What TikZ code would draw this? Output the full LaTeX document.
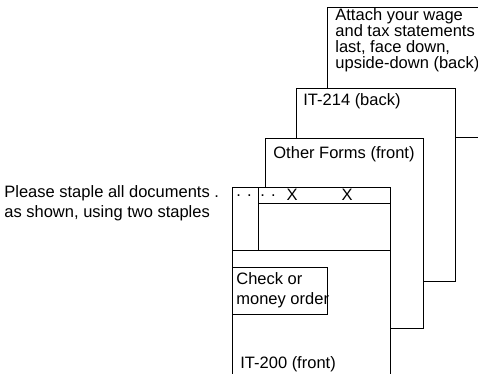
\documentclass[tikz,border=0pt]{standalone}
\usepackage{fontspec}
\setmainfont{Liberation Sans}
\usepackage{tikz}
\usetikzlibrary{positioning}

\begin{document}
\begin{tikzpicture}[x=1pt, y=-1pt, line width=0.8pt,
    sheet/.style={draw, fill=white, inner sep=0pt, outer sep=0pt, anchor=north west},
    words/.style={inner sep=0pt, anchor=north west, align=left, font=\fontsize{16.5}{16}\selectfont},
    wide/.style={words, font=\fontsize{16.5}{20}\selectfont},
    staplemark/.style={inner sep=0pt, font=\fontsize{16.5}{16}\selectfont}]
       \useasboundingbox (0,0) rectangle (478,373);
       \clip (0,0) rectangle (478,373);

       % sheets, back to front
       \node[sheet, minimum width=170pt, minimum height=130pt] (attach) at (327,7) {};
       \node[sheet, minimum width=159pt, minimum height=193pt] (it214) at (296,88) {};
       \node[sheet, minimum width=158pt, minimum height=190pt] (other) at (265,138) {};
       \node[sheet, minimum width=158pt, minimum height=220pt] (it200) at (232,187) {};
       \draw (258,187) -- (258,250);
       \draw (258,203) -- (390,203);
       \draw (232,250) -- (390,250);
       \node[sheet, minimum width=95pt, minimum height=47pt] (check) at (232,267) {};

       \node[words] (t-attach) at (335,8) {Attach your wage\\and tax statements\\last, face down,\\upside-down (back)};
       \node[words] (t-it214) at (303,93) {IT-214 (back)};
       \node[words] (t-other) at (273,146) {Other Forms (front)};
       \node[wide] (t-check) at (236,272) {Check or\\money order};
       \node[words] (t-it200) at (240,356) {IT-200 (front)};

       % staples
       \node[wide] (t-staple) at (4,185) {Please staple all documents .\\as shown, using two staples};
       \node[staplemark] (dots1) at (244,196) {. .};
       \node[staplemark] (dots2) at (268,196) {. .};
       \node[staplemark] (x1) at (292,195) {X};
       \node[staplemark] (x2) at (347,195) {X};
\end{tikzpicture}
\end{document}
